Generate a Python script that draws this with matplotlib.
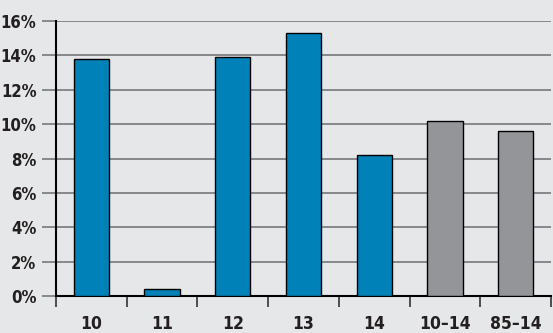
import matplotlib.pyplot as plt
from matplotlib.ticker import FuncFormatter

categories = ["10", "11", "12", "13", "14", "10\u201314", "85\u201314"]
values = [13.8, 0.4, 13.9, 15.3, 8.2, 10.2, 9.6]
colors = ["#0082b8"] * 5 + ["#939598"] * 2

bg = "#e6e7e9"
fig = plt.figure(figsize=(5.53, 3.33), dpi=100, facecolor=bg)
ax = fig.add_axes([56 / 553, 37 / 333, 495 / 553, 275 / 333], facecolor=bg)

x = range(len(categories))
ax.bar(x, values, width=0.5, color=colors, edgecolor="black", linewidth=1, zorder=3)

ax.set_xlim(-0.5, len(categories) - 0.5)
ax.set_ylim(0, 16)
ax.set_yticks(range(0, 17, 2))
ax.yaxis.set_major_formatter(FuncFormatter(lambda v, p: f"{int(v)}%"))
ax.grid(axis="y", color="#6d6e71", linewidth=1.1, zorder=0)

ax.set_xticks([i - 0.5 for i in range(len(categories) + 1)])
ax.set_xticklabels([])
ax.set_xticks(list(x), minor=True)
ax.set_xticklabels(categories, minor=True)
ax.tick_params(axis="x", which="major", direction="out", length=8, width=1.2, color="#333333")
ax.tick_params(axis="x", which="minor", length=0, pad=14)
ax.tick_params(axis="y", direction="out", length=10, width=1.1, color="#6d6e71", pad=4)

for lab in ax.get_yticklabels() + ax.get_xticklabels(minor=True):
    lab.set_fontfamily("DejaVu Sans")
    lab.set_fontstretch("condensed")
    lab.set_fontweight("bold")
    lab.set_fontsize(12.5)
    lab.set_color("#231f20")
for lab in ax.get_yticklabels():
    lab.set_fontsize(12)

for side in ["top", "right"]:
    ax.spines[side].set_visible(False)
ax.spines["left"].set_linewidth(1.5)
ax.spines["bottom"].set_linewidth(1.5)

fig.savefig("out.png", dpi=100, facecolor=bg)
